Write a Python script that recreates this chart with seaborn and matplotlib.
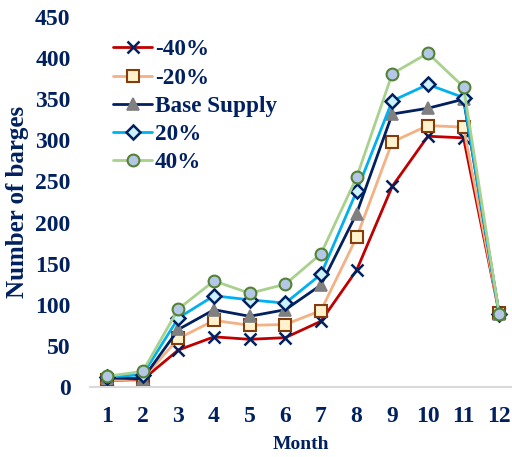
import matplotlib
matplotlib.use("Agg")
import matplotlib.pyplot as plt
import seaborn as sns
import pandas as pd

months = [1, 2, 3, 4, 5, 6, 7, 8, 9, 10, 11, 12]
minus_40 = [8, 9, 45, 61, 58, 60, 80, 142, 244, 305, 303, 90]
minus_20 = [8, 10, 59, 81, 75, 76, 93, 182, 298, 318, 316, 90]
base_supply = [11, 10, 70, 94, 86, 94, 124, 211, 332, 339, 350, 89]
plus_20 = [12, 15, 84, 111, 106, 102, 137, 238, 348, 368, 352, 89]
plus_40 = [13, 19, 95, 129, 114, 125, 162, 255, 381, 406, 365, 89]

labels = ["-40%", "-20%", "Base Supply", "20%", "40%"]
values = [minus_40, minus_20, base_supply, plus_20, plus_40]

navy = "#002060"
styles = {
    "-40%": dict(color="#C00000", marker="x", mfc=navy, mec=navy, ms=8, mew=1.8),
    "-20%": dict(color="#F4B183", marker="s", mfc="#FFF2CC", mec="#843C0C", ms=8, mew=1.5),
    "Base Supply": dict(color=navy, marker="^", mfc="#808080", mec="#7F7F7F", ms=9, mew=1.2),
    "20%": dict(color="#00B0F0", marker="D", mfc="#CCF2FF", mec=navy, ms=7, mew=1.8),
    "40%": dict(color="#A9D18E", marker="o", mfc="#B4C7E7", mec="#548235", ms=8.5, mew=1.5),
}

df = pd.DataFrame(
    [(m, v, lab) for lab, vals in zip(labels, values) for m, v in zip(months, vals)],
    columns=["Month", "Barges", "Scenario"],
)

sns.set_style("white")
plt.rcParams["font.family"] = ["Liberation Serif", "DejaVu Serif"]
plt.rcParams["font.weight"] = "bold"

fig = plt.figure(figsize=(5.12, 4.57), dpi=100)
ax = fig.add_axes([90 / 512, 1 - 387 / 457, 1 - 90 / 512, (387 - 17) / 457])

for lab in labels:
    st = styles[lab]
    sub = df[df["Scenario"] == lab]
    sns.lineplot(
        data=sub, x="Month", y="Barges", ax=ax, label=lab,
        color=st["color"], linewidth=2, marker=st["marker"],
        markersize=st["ms"], markerfacecolor=st["mfc"],
        markeredgecolor=st["mec"], markeredgewidth=st["mew"],
    )

ax.set_xlim(0.52, 12.36)
ax.set_ylim(0, 450)
ax.set_xticks(months)
ax.set_yticks(range(0, 451, 50))
ax.tick_params(axis="both", length=0, labelsize=17, labelcolor=navy, pad=14)
for t in ax.get_xticklabels() + ax.get_yticklabels():
    t.set_fontweight("bold")

for side in ["top", "right", "left"]:
    ax.spines[side].set_visible(False)
ax.spines["bottom"].set_color("#D9D9D9")
ax.spines["bottom"].set_linewidth(1.5)

ax.set_xlabel("Month", fontsize=14, fontweight="bold", color=navy, labelpad=6)
ax.set_ylabel("Number of barges", fontsize=18, fontweight="bold", color=navy, labelpad=4)

leg = ax.legend(
    loc="upper left", bbox_to_anchor=(0.0545, 0.94), frameon=False,
    prop={"size": 16.7, "weight": "bold"}, handlelength=1.7,
    handletextpad=0.1, labelspacing=0.3, borderaxespad=0, borderpad=0,
)
for txt in leg.get_texts():
    txt.set_color(navy)

fig.savefig("out.png", dpi=100)
